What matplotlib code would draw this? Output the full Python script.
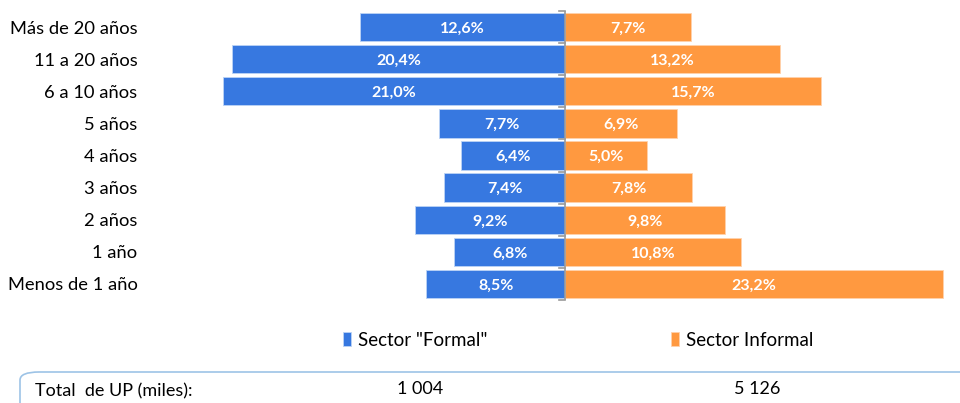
import matplotlib.pyplot as plt
from matplotlib.patches import FancyBboxPatch

categorias = ['Menos de 1 año', '1 año', '2 años', '3 años', '4 años',
              '5 años', '6 a 10 años', '11 a 20 años', 'Más de 20 años']
formal = [8.5, 6.8, 9.2, 7.4, 6.4, 7.7, 21.0, 20.4, 12.6]
informal = [23.2, 10.8, 9.8, 7.8, 5.0, 6.9, 15.7, 13.2, 7.7]
series = ['Sector "Formal"', 'Sector Informal']
totales = ['1 004', '5 126']

azul = '#3778E0'
naranja = '#FF9940'

plt.rcParams['font.family'] = ['Lato', 'DejaVu Sans']

fig = plt.figure(figsize=(9.6, 4.03), dpi=100)
# eje central en x=565px, 16.3 px por punto porcentual
ax = fig.add_axes([200 / 960, 103 / 403, 760 / 960, 289 / 403])
ax.set_xlim(-(565 - 200) / 16.3, (960 - 565) / 16.3)
ax.set_ylim(-0.5, len(categorias) - 0.5)

y = range(len(categorias))
b1 = ax.barh(y, [-v for v in formal], height=0.88, color=azul,
             edgecolor='#BCD3F5', linewidth=0.6, label=series[0])
b2 = ax.barh(y, informal, height=0.88, color=naranja,
             edgecolor='#FFD2AC', linewidth=0.6, label=series[1])

for i in y:
    ax.text(-formal[i] / 2, i - 0.05, f'{formal[i]:.1f}%'.replace('.', ','),
            ha='center', va='center', color='white', fontsize=11.5,
            fontweight='bold')
    ax.text(informal[i] / 2, i - 0.05, f'{informal[i]:.1f}%'.replace('.', ','),
            ha='center', va='center', color='white', fontsize=11.5,
            fontweight='bold')

# linea central con marcas
ax.axvline(0, color='#9A9A9A', linewidth=1.2)
for k in range(len(categorias) + 1):
    ax.plot([-0.35, 0], [k - 0.5, k - 0.5], color='#9A9A9A', linewidth=1.2,
            clip_on=False)

for s in ax.spines.values():
    s.set_visible(False)
ax.set_xticks([])
ax.set_yticks(list(y))
ax.set_yticklabels(categorias, fontsize=13.2)
ax.tick_params(axis='y', length=0, pad=45)

fig.legend(handles=[b1, b2], labels=series, loc='center',
           bbox_to_anchor=(578 / 960, 1 - 340 / 403), ncol=2, frameon=False,
           fontsize=13.5, handlelength=0.45, handleheight=0.8, handletextpad=0.35,
           columnspacing=9.8)

caja = FancyBboxPatch((20 / 960, -0.1), 1.0, 0.1 + (403 - 372) / 403,
                      boxstyle='round,pad=0,rounding_size=0.02',
                      transform=fig.transFigure, facecolor='none',
                      edgecolor='#9DC3E6', linewidth=1.2)
fig.patches.append(caja)
fig.text(35 / 960, 1 - 391 / 403, 'Total  de UP (miles):', fontsize=13,
         va='center', ha='left')
fig.text(420 / 960, 1 - 389 / 403, totales[0], fontsize=13,
         va='center', ha='center')
fig.text(757 / 960, 1 - 389 / 403, totales[1], fontsize=13,
         va='center', ha='center')

fig.savefig('out.png', dpi=100)
